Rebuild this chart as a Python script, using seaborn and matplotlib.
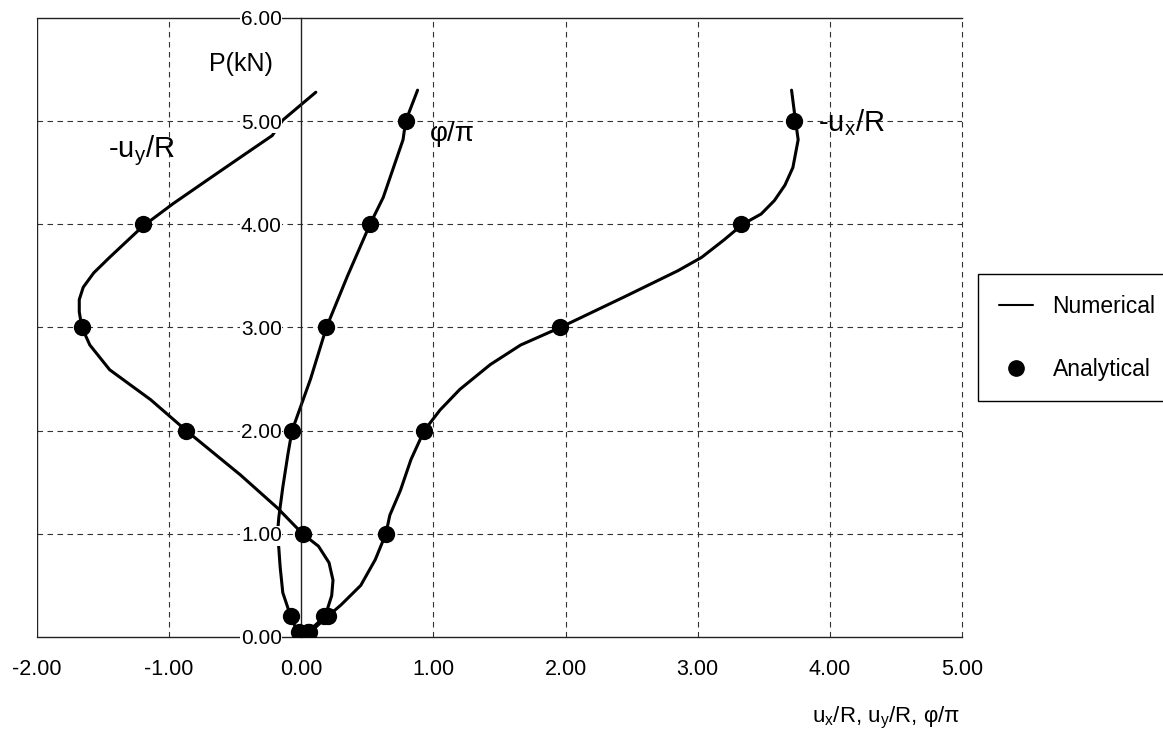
import matplotlib
matplotlib.use("Agg")
import matplotlib.pyplot as plt
from matplotlib.lines import Line2D
from matplotlib.ticker import FormatStrFormatter
import pandas as pd
import seaborn as sns

# numerical curves (x value, load P in kN)
ux_num_x = [0.00, 0.07, 0.20, 0.30, 0.45, 0.56, 0.64, 0.67, 0.75, 0.83, 0.93, 1.05, 1.20, 1.43, 1.66,
            1.96, 2.45, 2.85, 3.03, 3.20, 3.34, 3.48, 3.58, 3.66, 3.72, 3.76, 3.74, 3.71]
ux_num_p = [0.00, 0.05, 0.20, 0.31, 0.50, 0.75, 1.00, 1.18, 1.42, 1.72, 2.00, 2.20, 2.40, 2.64, 2.83,
            3.00, 3.30, 3.55, 3.68, 3.85, 4.00, 4.10, 4.23, 4.38, 4.55, 4.82, 5.00, 5.30]

uy_num_x = [0.00, 0.05, 0.18, 0.23, 0.24, 0.21, 0.13, 0.01, -0.18, -0.46, -0.87, -1.14, -1.45, -1.60,
            -1.66, -1.68, -1.68, -1.65, -1.57, -1.45, -1.20, -0.97, -0.71, -0.46, -0.22, -0.14, 0.11]
uy_num_p = [0.00, 0.05, 0.20, 0.40, 0.55, 0.72, 0.88, 1.00, 1.25, 1.57, 2.00, 2.30, 2.59, 2.83,
            3.00, 3.15, 3.27, 3.39, 3.53, 3.68, 3.98, 4.20, 4.43, 4.65, 4.86, 5.01, 5.28]

phi_num_x = [0.00, -0.03, -0.08, -0.14, -0.16, -0.17, -0.18, -0.17, -0.14, -0.10, -0.07, 0.07, 0.19,
             0.35, 0.52, 0.62, 0.77, 0.79, 0.88]
phi_num_p = [0.00, 0.05, 0.20, 0.43, 0.68, 0.86, 1.00, 1.16, 1.45, 1.78, 2.00, 2.50, 3.00,
             3.50, 4.00, 4.26, 4.82, 5.00, 5.30]

# analytical points
ux_ana_x = [0.06, 0.20, 0.64, 0.93, 1.96, 3.33, 3.73]
ux_ana_p = [0.05, 0.20, 1.00, 2.00, 3.00, 4.00, 5.00]
uy_ana_x = [0.05, 0.17, 0.01, -0.87, -1.66, -1.20]
uy_ana_p = [0.05, 0.20, 1.00, 2.00, 3.00, 4.00]
phi_ana_x = [-0.02, -0.08, -0.07, 0.19, 0.52, 0.79]
phi_ana_p = [0.05, 0.20, 2.00, 3.00, 4.00, 5.00]

x_ticks = [-2, -1, 0, 1, 2, 3, 4, 5]
y_ticks = [0, 1, 2, 3, 4, 5, 6]

num = pd.concat([
    pd.DataFrame({"x": ux_num_x, "P": ux_num_p, "curve": "ux"}),
    pd.DataFrame({"x": uy_num_x, "P": uy_num_p, "curve": "uy"}),
    pd.DataFrame({"x": phi_num_x, "P": phi_num_p, "curve": "phi"}),
], ignore_index=True)
ana = pd.concat([
    pd.DataFrame({"x": ux_ana_x, "P": ux_ana_p}),
    pd.DataFrame({"x": uy_ana_x, "P": uy_ana_p}),
    pd.DataFrame({"x": phi_ana_x, "P": phi_ana_p}),
], ignore_index=True)

sns.set_style("white", {"text.color": "black", "axes.labelcolor": "black",
                        "xtick.color": "black", "ytick.color": "black"})
plt.rcParams["font.family"] = ["Liberation Sans", "DejaVu Sans"]
plt.rcParams["mathtext.default"] = "regular"

fig = plt.figure(figsize=(11.63, 7.33), dpi=100)
ax = fig.add_axes([0.0318, 0.131, 0.7954, 0.8445])

# dashed grid under everything
for xv in x_ticks[1:]:
    if xv != 0:
        ax.axvline(xv, color="#333333", lw=0.8, ls=(0, (5, 4)), zorder=0, clip_on=False)
for yv in y_ticks[1:-1]:
    ax.axhline(yv, color="#333333", lw=0.8, ls=(0, (5, 4)), zorder=0)
ax.axvline(-2, color="#222222", lw=1.0, zorder=0.5)

sns.lineplot(data=num, x="x", y="P", units="curve", estimator=None, sort=False,
             color="black", lw=2.2, legend=False, ax=ax, zorder=2)
sns.scatterplot(data=ana, x="x", y="P", color="black", s=155, edgecolor="black",
                linewidth=0, legend=False, ax=ax, zorder=3)

ax.set_xlim(-2, 5)
ax.set_ylim(0, 6)
ax.set_xticks(x_ticks)
ax.set_yticks(y_ticks)
ax.xaxis.set_major_formatter(FormatStrFormatter("%.2f"))
ax.yaxis.set_major_formatter(FormatStrFormatter("%.2f"))

ax.spines["left"].set_position(("data", 0))
ax.spines["right"].set_visible(False)
for s in ["left", "bottom", "top"]:
    ax.spines[s].set_color("#222222")
    ax.spines[s].set_linewidth(1.0)

ax.tick_params(axis="x", direction="out", length=5, width=1, pad=11, labelsize=15.5, colors="black")
ax.tick_params(axis="y", direction="out", length=5, width=1, pad=9, labelsize=15, colors="black")
ax.yaxis.set_zorder(4)
for lbl in ax.get_yticklabels():
    lbl.set_bbox(dict(facecolor="white", edgecolor="none", pad=0.5))

ax.set_xlabel(r"u$_x$/R, u$_y$/R, φ/π", fontsize=16, color="black")
ax.xaxis.set_label_coords(0.918, -0.11)
ax.set_ylabel("")

ax.text(-0.46, 5.55, "P(kN)", fontsize=18, ha="center", va="center", color="black")
ax.text(-1.21, 4.71, r"-u$_y$/R", fontsize=21, ha="center", va="center", color="black")
ax.text(1.14, 4.88, "φ/π", fontsize=20, ha="center", va="center", color="black")
ax.text(4.16, 4.99, r"-u$_x$/R", fontsize=21, ha="center", va="center", color="black")

handles = [Line2D([], [], color="black", lw=1.5),
           Line2D([], [], color="black", marker="o", ls="none", markersize=11)]
leg = ax.legend(handles, ["Numerical", "Analytical"], loc="upper left",
                bbox_to_anchor=(0.841, 0.626), bbox_transform=fig.transFigure,
                borderaxespad=0, fontsize=16.5, frameon=True, fancybox=False,
                framealpha=1, edgecolor="black", borderpad=0.9, labelspacing=1.75,
                handlelength=1.5, handletextpad=0.85)
leg.get_frame().set_linewidth(1.0)
for t in leg.get_texts():
    t.set_color("black")

fig.savefig("out.png", dpi=100)
